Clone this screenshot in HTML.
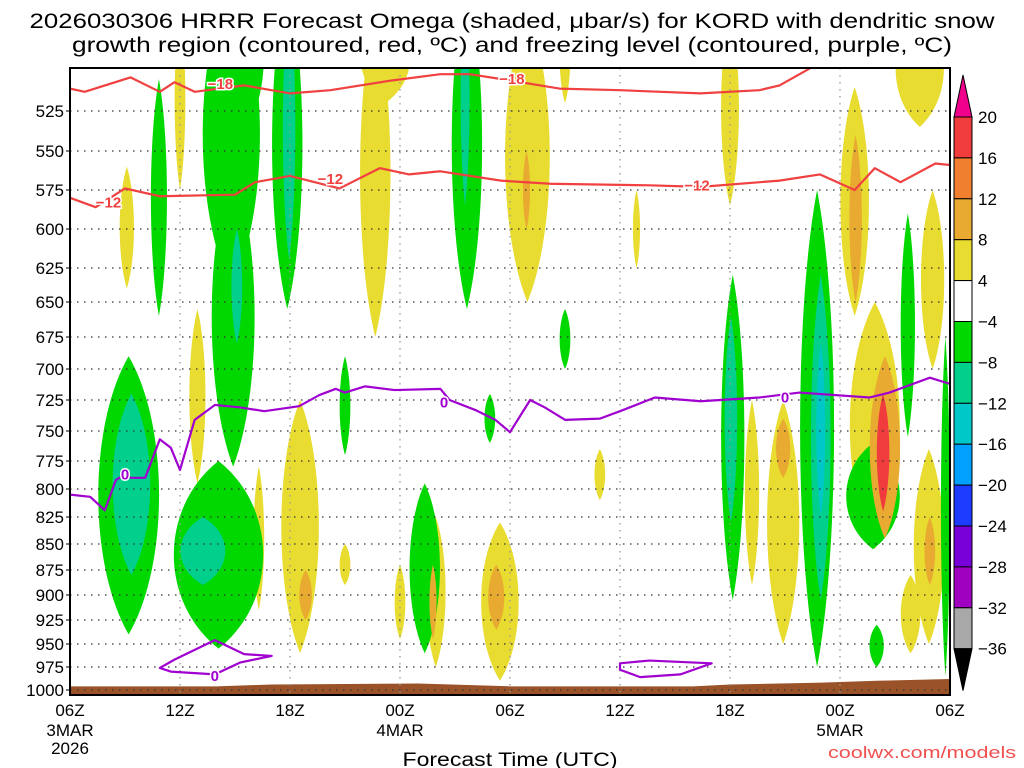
<!DOCTYPE html>
<html><head><meta charset="utf-8"><style>
html,body{margin:0;padding:0;background:#fff;width:1024px;height:768px;overflow:hidden}
svg{display:block;font-family:"Liberation Sans",sans-serif}
</style></head><body>
<svg id="chart" width="1024" height="768" viewBox="0 0 1024 768">
<defs><clipPath id="pc"><rect x="70" y="68" width="880" height="627"/></clipPath></defs>
<text x="512" y="28" text-anchor="middle" font-size="21" textLength="965" lengthAdjust="spacingAndGlyphs">2026030306 HRRR Forecast Omega (shaded, μbar/s) for KORD with dendritic snow</text>
<text x="512" y="52" text-anchor="middle" font-size="21" textLength="880" lengthAdjust="spacingAndGlyphs">growth region (contoured, red, ºC) and freezing level (contoured, purple, ºC)</text>
<g id="plot" clip-path="url(#pc)"></g>
<g id="axes"></g>
<g id="cbar"></g>
<text x="510" y="766" text-anchor="middle" font-size="19" textLength="215" lengthAdjust="spacingAndGlyphs">Forecast Time (UTC)</text>
<text x="1016" y="758" text-anchor="end" font-size="17" fill="#f05050" textLength="188" lengthAdjust="spacingAndGlyphs">coolwx.com/models</text>
</svg>
<script>
// ---- data ----
const pLevels=[525,550,575,600,625,650,675,700,725,750,775,800,825,850,875,900,925,950,975,1000];
const timeTicks=["06Z","12Z","18Z","00Z","06Z","12Z","18Z","00Z","06Z"];
const dateLabels={0:["3MAR","2026"],3:["4MAR"],7:["5MAR"]};
const cbarLevels=[20,16,12,8,4,-4,-8,-12,-16,-20,-24,-28,-32,-36];
// omega blobs: [hourStart, hourEnd, pTop, pBottom, omegaValue]
const blobT0=[2.7,5.7,6.5,11.5,12.5,10,14.7,15.8,15.8,17.7,19.4,19.6,22.4,22.8,23.7,24.7,26.7,28.6,30.7,35.5,36.8,38,38.5,42,42.5,42.5,43.6,44,45,46.4,46,46.6,45.3,
 4.4,7.2,7.7,8.2,11,11.6,8.8,1.5,2.3,5.6,6,20.8,21.3,14.7,18.5,22.6,26.7,35.5,35.7,39.8,40.4,40.7,43.6,45.3,47.5,42.3];
const blobT1=[3.5,6.3,7.4,13.6,13.2,10.6,15.3,17.5,18.6,18.3,20.5,20,24.5,23.7,26.2,25.1,27.3,29.2,31.1,36.5,37.6,39.8,39.3,43.6,43.2,45.3,45.3,44.7,47.7,47.7,47.7,47.2,46.4,
 5.3,10.4,10.1,10.6,12.7,12.3,9.4,4.9,4.4,10.6,8.5,22.5,21.8,15.3,20.2,23.2,27.3,36.8,36.4,41.7,41.5,41.2,44.4,46.1,48,45.3];
const blobP0=[560,460,655,725,875,780,850,460,460,870,825,870,830,870,460,550,460,765,575,460,725,725,740,510,540,650,690,720,460,575,765,825,880,
 505,440,560,440,440,450,600,690,720,775,825,440,450,690,795,720,655,630,660,575,630,680,930,590,675,760];
const blobP1=[640,575,795,960,925,915,890,675,520,945,975,945,990,935,650,600,520,810,625,585,890,950,790,660,650,855,845,820,535,700,950,890,960,
 660,640,780,540,655,620,680,940,880,955,890,655,585,770,960,760,700,905,830,975,905,825,975,755,985,855];
const blobV=[6,6,6,6,10,6,6,6,6,6,6,10,6,10,6,10,6,6,6,6,6,6,10,6,10,6,10,18,6,6,6,10,6,
 -6,-6,-6,-6,-6,-10,-10,-6,-10,-6,-10,-6,-10,-6,-6,-6,-6,-6,-10,-6,-10,-14,-6,-6,-6,-6];
// -18 C contour
const l18H=[0,0.8,3.3,4.9,5.7,6.8,9.5,12,14.2,17.5,20.2,21.8,23.5,26.7,30,34.4,37.6,38.7,40.4];
const l18P=[511,513,504,513,507,513,509,514,512,506,502,502,505,511,512,514,512,509,498];
// -12 C contour
const l12H=[0,1.4,3,4.9,9,10.1,12,14.7,16.9,18.5,20.2,23.5,26.2,31.6,34.4,38.7,40.9,42.8,43.9,45.3,47.2,48];
const l12P=[580,586,574,579,578,570,566,574,561,565,563,569,571,572,573,569,565,575,561,570,558,559];
// 0 C freezing level
const l0H=[0,1.1,1.9,2.5,3,3.3,4.1,4.9,5.5,6,6.8,7.9,9.3,10.6,12.5,13.6,14.5,15,16.1,17.7,20.2,20.7,22.1,23.2,24,25.1,25.9,27,28.9,30,31.9,34.4,37.6,39.8,43.6,44.7,46.9,48];
const l0P=[805,807,819,792,787,790,790,757,764,783,741,729,731,734,730,721,716,719,714,717,716,725,733,741,751,725,731,741,740,734,723,726,723,719,723,719,707,712];
const loop1H=[4.9,5.7,7.9,9.5,11.0,9.3,7.9,5.5];
const loop1P=[976,967,946,961,963,970,983,980];
const loop2H=[30,31.6,35,33.3,31.1,30];
const loop2P=[971,968,971,983,986,978];
// terrain (surface pressure)
const sfcH=[0,2,8,11,19,24,34,36,41,44,48];
const sfcP=[996,996,996,994,993,996,996,994,992,990,988];

// ---- scales ----
const X0=70,X1=950,YT=68,YB=695;
const pY=[[440,-20],[500,71],[525,111],[550,151],[575,190],[600,229],[625,268],[650,302],[675,337],[700,369],[725,400],[750,431],[775,461],[800,489],[825,517],[850,544],[875,570],[900,595],[925,620],[950,644],[975,667],[1000,690],[1003,695]];
function x(h){return X0+h*(X1-X0)/48;}
function y(p){for(let i=0;i<pY.length-1;i++){const a=pY[i],b=pY[i+1];if(p<=b[0]||i==pY.length-2){return a[1]+(p-a[0])*(b[1]-a[1])/(b[0]-a[0]);}}}
function col(v){
 const c=[["#f03c3c",16,99],["#f08030",12,16],["#e8aa30",8,12],["#e8dc30",4,8],["#ffffff",-4,4],["#00d800",-8,-4],["#00d08c",-12,-8],["#00c8c8",-16,-12],["#00a0ff",-20,-16],["#1e3cff",-24,-20],["#7800d8",-28,-24],["#a000c0",-32,-28],["#a8a8a8",-36,-32]];
 for(const k of c){if(v>=k[1]&&v<k[2])return k[0];}return "#000";}
const NS="http://www.w3.org/2000/svg";
function mk(tag,attrs,parent){const e=document.createElementNS(NS,tag);for(const k in attrs)e.setAttribute(k,attrs[k]);parent.appendChild(e);return e;}
const plot=document.getElementById('plot'),axes=document.getElementById('axes'),cbar=document.getElementById('cbar');
mk('rect',{x:X0,y:YT,width:X1-X0,height:YB-YT,fill:'#fff'},plot);
const order=blobV.map((v,i)=>i).sort((a,b)=>Math.abs(blobV[a])-Math.abs(blobV[b]));
for(const i of order){
 const xa=x(blobT0[i]),xb=x(blobT1[i]),ya=y(blobP0[i]),yb=y(blobP1[i]);
 const cx=(xa+xb)/2,rx=(xb-xa)/2,ry=(yb-ya)/2;
 const d=`M${cx},${ya} C${cx+rx*1.3},${ya+ry*0.5} ${cx+rx*1.3},${yb-ry*0.5} ${cx},${yb} C${cx-rx*1.3},${yb-ry*0.5} ${cx-rx*1.3},${ya+ry*0.5} ${cx},${ya}Z`;
 const e=mk('path',{d:d,fill:col(blobV[i])},plot);
 
 
}
let td=`M${x(0)},${YB}`;sfcH.forEach((h,i)=>{td+=` L${x(h)},${y(sfcP[i])}`;});td+=` L${x(48)},${YB}Z`;
const terr=mk('path',{d:td,fill:'#9a5228'},plot);


pLevels.forEach(p=>{const g=mk('line',{x1:X0,x2:X1,y1:y(p),y2:y(p),stroke:'#333','stroke-width':1.3,'stroke-dasharray':'1.5 5.5'},plot);
 
 });
timeTicks.forEach((t,i)=>{if(i==0||i==8)return;const g=mk('line',{x1:x(i*6),x2:x(i*6),y1:YT,y2:YB,stroke:'#999','stroke-width':1.3,'stroke-dasharray':'1.5 5.5'},plot);
 
 });
function line(H,P,color,name,closed){let d='';H.forEach((h,i)=>{d+=(i?' L':'M')+x(h)+','+y(P[i]);});if(closed)d+='Z';
 const e=mk('path',{d:d,fill:'none',stroke:color,'stroke-width':2.2,'stroke-linejoin':'round'},plot);
 
 }
line(l18H,l18P,'#f04040','contour-minus18');
line(l12H,l12P,'#f04040','contour-minus12');
line(l0H,l0P,'#a000d0','freezing-level-0');
line(loop1H,loop1P,'#a000d0','freezing-level-loop',true);
line(loop2H,loop2P,'#a000d0','freezing-level-loop',true);
function lab(h,p,t,color){
 const e=mk('text',{x:x(h),y:y(p)+5,'text-anchor':'middle','font-size':15,'font-weight':'bold',fill:color,stroke:'#fff','stroke-width':3,'paint-order':'stroke'},plot);e.textContent=t;
 
 }
lab(8.2,508,'\u221218','#f04040');lab(24.1,505,'\u221218','#f04040');
lab(2.1,583,'\u221212','#f04040');lab(14.2,568,'\u221212','#f04040');lab(34.2,572,'\u221212','#f04040');
lab(3,787,'0','#a000d0');lab(7.9,985,'0','#a000d0');lab(20.4,727,'0','#a000d0');lab(39,723,'0','#a000d0');
mk('rect',{x:X0,y:YT,width:X1-X0,height:YB-YT,fill:'none',stroke:'#000','stroke-width':2},axes);
pLevels.forEach(p=>{mk('line',{x1:X0-4,x2:X0,y1:y(p),y2:y(p),stroke:'#000'},axes);
 const t=mk('text',{x:X0-6,y:y(p)+6,'text-anchor':'end','font-size':17},axes);t.textContent=p;
 
 });
timeTicks.forEach((s,i)=>{const t=mk('text',{x:x(i*6),y:716,'text-anchor':'middle','font-size':17},axes);t.textContent=s;
 
 
 (dateLabels[i]||[]).forEach((d,j)=>{const u=mk('text',{x:x(i*6),y:736+j*18,'text-anchor':'middle','font-size':17},axes);u.textContent=d;
 
 });});
const CX=954,CW=18,C0=117,CS=40.9;
for(let i=0;i<cbarLevels.length-1;i++){const v=(cbarLevels[i]+cbarLevels[i+1])/2;
 const r=mk('rect',{x:CX,y:C0+i*CS,width:CW,height:CS,fill:col(v),stroke:'#000','stroke-width':1},cbar);
 
 }
mk('path',{d:`M${CX},${C0} L${CX+CW/2},${C0-42} L${CX+CW},${C0}Z`,fill:'#f0008c',stroke:'#000'},cbar);
const bot=C0+(cbarLevels.length-1)*CS;
mk('path',{d:`M${CX},${bot} L${CX+CW/2},${bot+42} L${CX+CW},${bot}Z`,fill:'#000',stroke:'#000'},cbar);
cbarLevels.forEach((v,i)=>{const t=mk('text',{x:978,y:C0+i*CS+6,'font-size':17},cbar);t.textContent=v<0?'\u2212'+(-v):v;
 
 });
</script>
</body></html>
